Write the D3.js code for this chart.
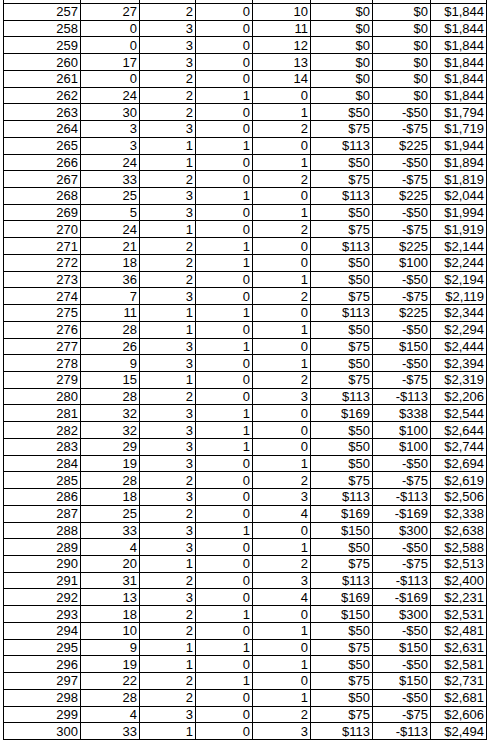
<!DOCTYPE html>
<html><head><meta charset="utf-8">
<script src="https://cdn.jsdelivr.net/npm/d3@7"></script>
<style>body{margin:0;background:#fff}</style>
</head><body>
<svg id="t" width="492" height="746"></svg>
<script>
// table data, one array per column
var rowIds   = d3.range(257, 301);
var colB = [27,0,0,17,0,24,30,3,3,24,33,25,5,24,21,18,36,7,11,28,26,9,15,28,32,32,29,19,28,18,25,33,4,20,31,13,18,10,9,19,22,28,4,33];
var colC = [2,3,3,3,2,2,2,3,1,1,2,3,3,1,2,2,2,3,1,1,3,3,1,2,3,3,3,3,2,3,2,3,3,1,2,3,2,2,1,1,2,2,3,1];
var colD = [0,0,0,0,0,1,0,0,1,0,0,1,0,0,1,1,0,0,1,0,1,0,0,0,1,1,1,0,0,0,0,1,0,0,0,0,1,0,1,0,1,0,0,0];
var colE = [10,11,12,13,14,0,1,2,0,1,2,0,1,2,0,0,1,2,0,1,0,1,2,3,0,0,0,1,2,3,4,0,1,2,3,4,0,1,0,1,0,1,2,3];
var bet  = [0,0,0,0,0,0,50,75,113,50,75,113,50,75,113,50,50,75,113,50,75,50,75,113,169,50,50,50,75,113,169,150,50,75,113,169,150,50,75,50,75,50,75,113];
var win  = [0,0,0,0,0,0,-50,-75,225,-50,-75,225,-50,-75,225,100,-50,-75,225,-50,150,-50,-75,-113,338,100,100,-50,-75,-113,-169,300,-50,-75,-113,-169,300,-50,150,-50,150,-50,-75,-113];
var bank = [1844,1844,1844,1844,1844,1844,1794,1719,1944,1894,1819,2044,1994,1919,2144,2244,2194,2119,2344,2294,2444,2394,2319,2206,2544,2644,2744,2694,2619,2506,2338,2638,2588,2513,2400,2231,2531,2481,2631,2581,2731,2681,2606,2494];

var money = function(v){ return (v < 0 ? "-$" : "$") + d3.format(",")(Math.abs(v)); };
var columns = [
  {vals: rowIds, fmt: String},
  {vals: colB, fmt: String},
  {vals: colC, fmt: String},
  {vals: colD, fmt: String},
  {vals: colE, fmt: String},
  {vals: bet, fmt: money},
  {vals: win, fmt: money},
  {vals: bank, fmt: money}
];
var edges = [3, 80, 139, 195, 252, 310, 372, 430, 486];

var svg = d3.select("#t");
var y = d3.scaleBand().domain(d3.range(rowIds.length)).range([3, 739]);

var g = svg.append("g");
// horizontal grid
g.selectAll("line.h").data(d3.range(rowIds.length + 1)).enter().append("line")
  .attr("x1", edges[0]).attr("x2", edges[edges.length-1])
  .attr("y1", function(i){ return Math.round(i < rowIds.length ? y(i) : y.range()[1]) + 0.5; })
  .attr("y2", function(i){ return Math.round(i < rowIds.length ? y(i) : y.range()[1]) + 0.5; })
  .attr("stroke", "#000");
// vertical grid
g.selectAll("line.v").data(edges).enter().append("line")
  .attr("x1", function(d){ return d + 0.5; }).attr("x2", function(d){ return d + 0.5; })
  .attr("y1", 0).attr("y2", function(d, i){ return y.range()[1] + 1; })
  .attr("stroke", "#000");

columns.forEach(function(col, c){
  g.selectAll("text.c" + c).data(col.vals).enter().append("text")
    .attr("x", edges[c+1] - 2)
    .attr("y", function(d, i){ return y(i) + y.bandwidth() / 2 + 5; })
    .attr("text-anchor", "end")
    .attr("font-family", "Liberation Sans, Arial, sans-serif")
    .attr("font-size", "13px")
    .text(col.fmt);
});
</script>
</body></html>
